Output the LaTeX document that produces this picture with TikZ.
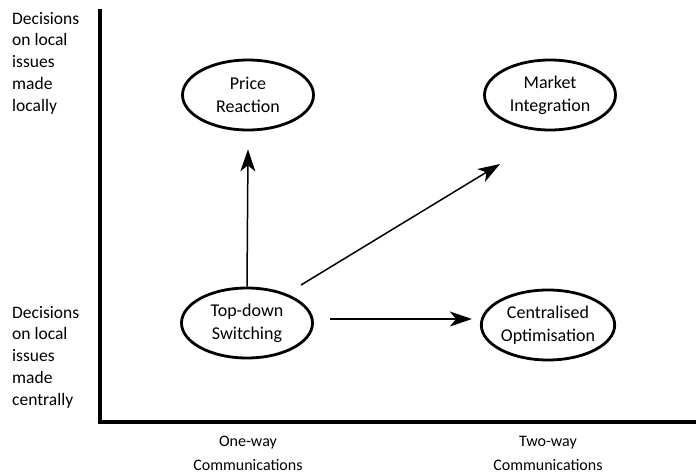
\documentclass[tikz,border=0pt]{standalone}
\usepackage{fontspec}
\setmainfont{Carlito}
\usetikzlibrary{shapes.geometric,arrows.meta}
\begin{document}
\begin{tikzpicture}[x=1pt,y=-1pt,
  oval/.style={ellipse,draw,line width=2.8pt,minimum width=131pt,minimum height=70pt,
    inner sep=0pt,align=center,font=\fontsize{18}{23}\selectfont},
  sidelabel/.style={anchor=north west,align=left,inner sep=0pt,
    font=\fontsize{17.5}{21.7}\selectfont},
  botlabel/.style={align=center,inner sep=0pt,font=\fontsize{16}{24}\selectfont},
  link/.style={line width=1.5pt,-{Stealth[length=22pt,width=15pt,inset=6pt]}},
  axis/.style={line width=3.6pt}]
\useasboundingbox (0,0) rectangle (696,473);
% axes
\coordinate (ytop) at (100,9);
\coordinate (origin) at (100,422);
\coordinate (xend) at (696,422);
\draw[axis] (ytop) -- (origin) -- (xend);
% axis labels
\node[sidelabel] (topl) at (12,12) {Decisions\\on local\\issues\\made\\locally};
\node[sidelabel] (botl) at (12,306) {Decisions\\on local\\issues\\made\\centrally};
\node[botlabel] (oneway) at (248,453) {One-way\\Communications};
\node[botlabel] (twoway) at (548,453) {Two-way\\Communications};
% strategies
\node[oval] (pr) at (248,95) {Price\\Reaction};
\node[oval] (mi) at (550,95) {Market\\Integration};
\node[oval] (td) at (247,323) {Top-down\\Switching};
\node[oval] (co) at (548,325) {Centralised\\Optimisation};
% transitions
\coordinate (diagend) at (500,164);
\draw[link] (td.north) -- ([yshift=-18pt]pr.south);
\draw[link] (301,285) -- (diagend);
\draw[link] ([xshift=16pt,yshift=4pt]td.east) -- ([xshift=-8pt,yshift=4pt]co.west |- td.east);
\end{tikzpicture}
\end{document}
